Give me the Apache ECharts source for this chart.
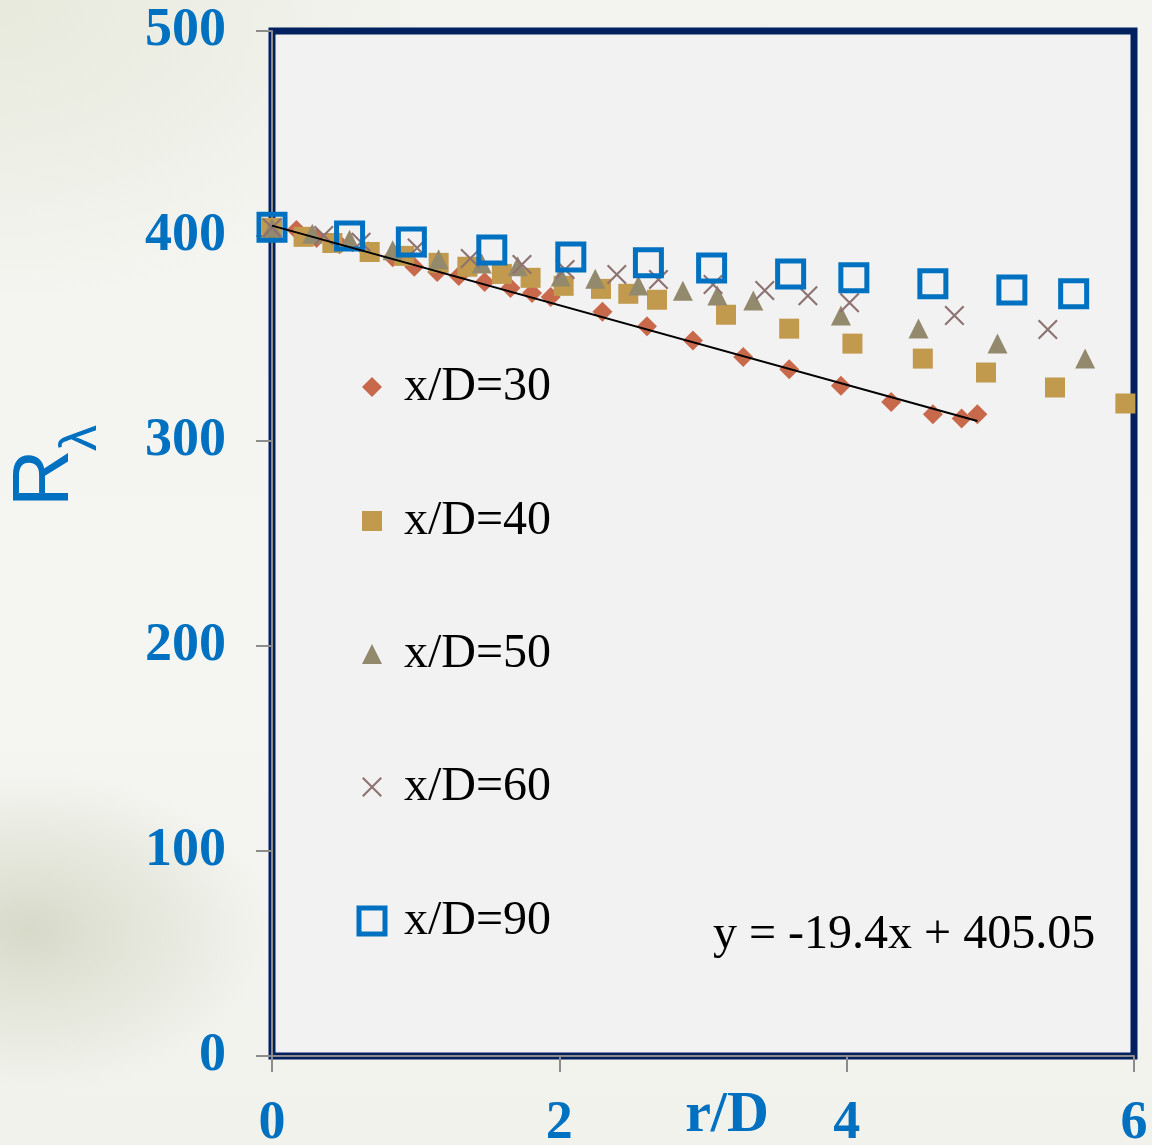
<!DOCTYPE html>
<html>
<head>
<meta charset="utf-8">
<title>R_lambda vs r/D</title>
<script src="https://cdn.jsdelivr.net/npm/echarts@6/dist/echarts.min.js"></script>
<style>
  html, body { margin: 0; padding: 0; }
  body {
    width: 1152px; height: 1145px; overflow: hidden;
    background:
      radial-gradient(ellipse 240px 160px at 30px 930px, rgba(208,212,192,0.8), rgba(208,212,192,0) 100%),
      radial-gradient(ellipse 420px 300px at 0px 0px, rgba(228,231,216,0.8), rgba(228,231,216,0) 100%),
      linear-gradient(180deg, #f3f4ef 0%, #f5f6f2 60%, #f1f2ec 100%);
  }
  #chart { width: 1152px; height: 1145px; }
</style>
</head>
<body>
<div id="chart"></div>
<script>
// Radial profiles of R_lambda at several downstream stations x/D
const rD30 = [0, 0.17, 0.31, 0.47, 0.67, 0.84, 0.99, 1.15, 1.30, 1.48, 1.66, 1.81, 1.94, 2.30, 2.61, 2.93, 3.28, 3.60, 3.96, 4.31, 4.60, 4.80, 4.91];
const R30  = [404, 402.9, 399, 396, 392.6, 389.6, 385, 382.5, 380.5, 377.6, 374.6, 372.2, 370.2, 363, 356, 349, 341, 335, 327, 319, 313, 311, 313];

const rD40 = [0, 0.22, 0.42, 0.68, 0.92, 1.16, 1.36, 1.60, 1.80, 2.03, 2.29, 2.48, 2.68, 3.16, 3.60, 4.04, 4.53, 4.97, 5.45, 5.94];
const R40  = [404, 399.6, 396.6, 392.2, 390.3, 386.9, 385, 381.5, 379.6, 375.7, 374.2, 371.8, 368.9, 361.6, 354.8, 347.5, 340.2, 333.4, 326.1, 318.3];

const rD50 = [0, 0.28, 0.54, 0.84, 1.16, 1.46, 1.71, 2.01, 2.25, 2.55, 2.86, 3.10, 3.35, 3.96, 4.50, 5.05, 5.66];
const R50  = [404, 401.1, 398.2, 393.0, 388.6, 386.6, 385.2, 380.2, 379.2, 375.8, 373.3, 371.0, 368.5, 361.2, 354.9, 347.6, 340.3];

const rD60 = [0, 0.36, 0.62, 1.01, 1.38, 1.74, 2.04, 2.40, 2.69, 3.07, 3.43, 3.73, 4.02, 4.75, 5.40];
const R60  = [404, 400.2, 397.0, 394.1, 389.0, 386.1, 383.6, 381.2, 378.8, 376.3, 373.4, 370.9, 367.5, 361.2, 354.4];

const rD90 = [0, 0.54, 0.97, 1.53, 2.08, 2.62, 3.06, 3.61, 4.05, 4.60, 5.15, 5.58];
const R90  = [404.3, 400.0, 397.1, 393.2, 389.8, 386.9, 384.4, 381.5, 379.6, 376.7, 373.7, 371.8];

const seriesNames = ['x/D=30', 'x/D=40', 'x/D=50', 'x/D=60', 'x/D=90'];

// Linear fit of the x/D=30 profile
const TREND_SLOPE = -19.4;
const TREND_INTERCEPT = 405.05;
const TREND_X = [0, 4.91];

// Axis scales
const X_TICKS = [0, 2, 4, 6];
const Y_TICKS = [0, 100, 200, 300, 400, 500];

const BLUE = '#0070c0';
const SERIF = '"Liberation Serif", "Times New Roman", serif';
const SANS = '"Liberation Sans", Arial, sans-serif';

// Marker shapes
const DIAMOND  = 'path://M10,0L20,10L10,20L0,10Z';
const SQUARE   = 'path://M0,0L20,0L20,20L0,20Z';
const TRIANGLE = 'path://M10,0L20,20L0,20Z';
const CROSS    = 'path://M1.5,0L20,18.5L18.5,20L0,1.5Z M18.5,0L20,1.5L1.5,20L0,18.5Z';
const FRAME    = 'path://M0,0L31,0L31,31L0,31Z M5,5L5,26L26,26L26,5Z';

const styles = [
  { symbol: DIAMOND,  size: 20, color: '#c8694c', legendTop: 363 },
  { symbol: SQUARE,   size: 20, color: '#c19a4e', legendTop: 497 },
  { symbol: TRIANGLE, size: 20, color: '#938a6d', legendTop: 630 },
  { symbol: CROSS,    size: 20, color: '#8e7272', legendTop: 763 },
  { symbol: FRAME,    size: 31, color: BLUE,      legendTop: 897 }
];

const xs = [rD30, rD40, rD50, rD60, rD90];
const ys = [R30, R40, R50, R60, R90];

function pairs(x, y) { return x.map((v, i) => [v, y[i]]); }

const scatterSeries = seriesNames.map((name, i) => ({
  name: name,
  type: 'scatter',
  data: pairs(xs[i], ys[i]),
  symbol: styles[i].symbol,
  symbolSize: styles[i].size,
  itemStyle: { color: styles[i].color, opacity: 1 },
  emphasis: { disabled: true },
  silent: true,
  animation: false
}));

const trendSeries = {
  name: 'trend',
  type: 'line',
  data: TREND_X.map(x => [x, TREND_SLOPE * x + TREND_INTERCEPT]),
  showSymbol: false,
  symbol: 'none',
  lineStyle: { color: '#000', width: 2 },
  silent: true,
  animation: false
};

// Draw order: diamonds, squares, triangles, crosses, fit line, open squares
const allSeries = scatterSeries.slice(0, 4).concat([trendSeries, scatterSeries[4]]);

// One legend block per series so each marker keeps its own size;
// markers are centred on a common column with the labels aligned after them
const LEGEND_MARKER_X = 372;
const legends = seriesNames.map((name, i) => ({
  data: [name],
  orient: 'vertical',
  left: LEGEND_MARKER_X - styles[i].size / 2,
  top: styles[i].legendTop,
  padding: 0,
  itemWidth: 54,
  itemHeight: styles[i].size,
  icon: styles[i].symbol,
  selectedMode: false,
  textStyle: { fontFamily: SERIF, fontSize: 48, color: '#000' }
}));

const axisLabelStyle = { fontFamily: SERIF, fontWeight: 'bold', fontSize: 54, color: BLUE };

const chart = echarts.init(document.getElementById('chart'), null, { renderer: 'canvas' });
chart.setOption({
  backgroundColor: 'transparent',
  animation: false,
  grid: {
    left: 272, right: 18, top: 31, bottom: 89,
    outerBoundsMode: 'none',
    containLabel: false,
    show: true,
    backgroundColor: '#f2f2f2',
    borderColor: '#002060',
    borderWidth: 7
  },
  xAxis: {
    type: 'value',
    min: X_TICKS[0], max: X_TICKS[X_TICKS.length - 1], interval: 2,
    axisLine: { show: true, lineStyle: { color: '#8c8c8c', width: 2 } },
    axisTick: { show: true, inside: false, length: 16, lineStyle: { color: '#8c8c8c', width: 2 } },
    splitLine: { show: false },
    axisLabel: Object.assign({ margin: 41, showMaxLabel: true, showMinLabel: true }, axisLabelStyle)
  },
  yAxis: {
    type: 'value',
    min: Y_TICKS[0], max: Y_TICKS[Y_TICKS.length - 1], interval: 100,
    axisLine: { show: true, lineStyle: { color: '#8c8c8c', width: 2 } },
    axisTick: { show: true, inside: false, length: 16, lineStyle: { color: '#8c8c8c', width: 2 } },
    splitLine: { show: false },
    axisLabel: Object.assign({ margin: 46 }, axisLabelStyle)
  },
  legend: legends,
  graphic: [
    {
      type: 'text', x: 727, y: 1116, silent: true,
      style: { text: 'r/D', fontFamily: SERIF, fontWeight: 'bold', fontSize: 58, fill: BLUE, align: 'center', verticalAlign: 'middle' }
    },
    {
      type: 'text', x: 46, y: 478, rotation: Math.PI / 2, silent: true,
      style: { text: 'R', fontFamily: SANS, fontSize: 80, fill: BLUE, align: 'center', verticalAlign: 'middle' }
    },
    {
      type: 'text', x: 82, y: 438, rotation: Math.PI / 2, silent: true,
      style: { text: 'λ', fontFamily: SANS, fontSize: 52, fill: BLUE, align: 'center', verticalAlign: 'middle' }
    },
    {
      type: 'text', x: 713, y: 935, silent: true,
      style: {
        text: 'y = ' + TREND_SLOPE + 'x + ' + TREND_INTERCEPT.toFixed(2),
        fontFamily: SERIF, fontSize: 48, fill: '#000', align: 'left', verticalAlign: 'middle'
      }
    }
  ],
  series: allSeries
});
</script>
</body>
</html>
